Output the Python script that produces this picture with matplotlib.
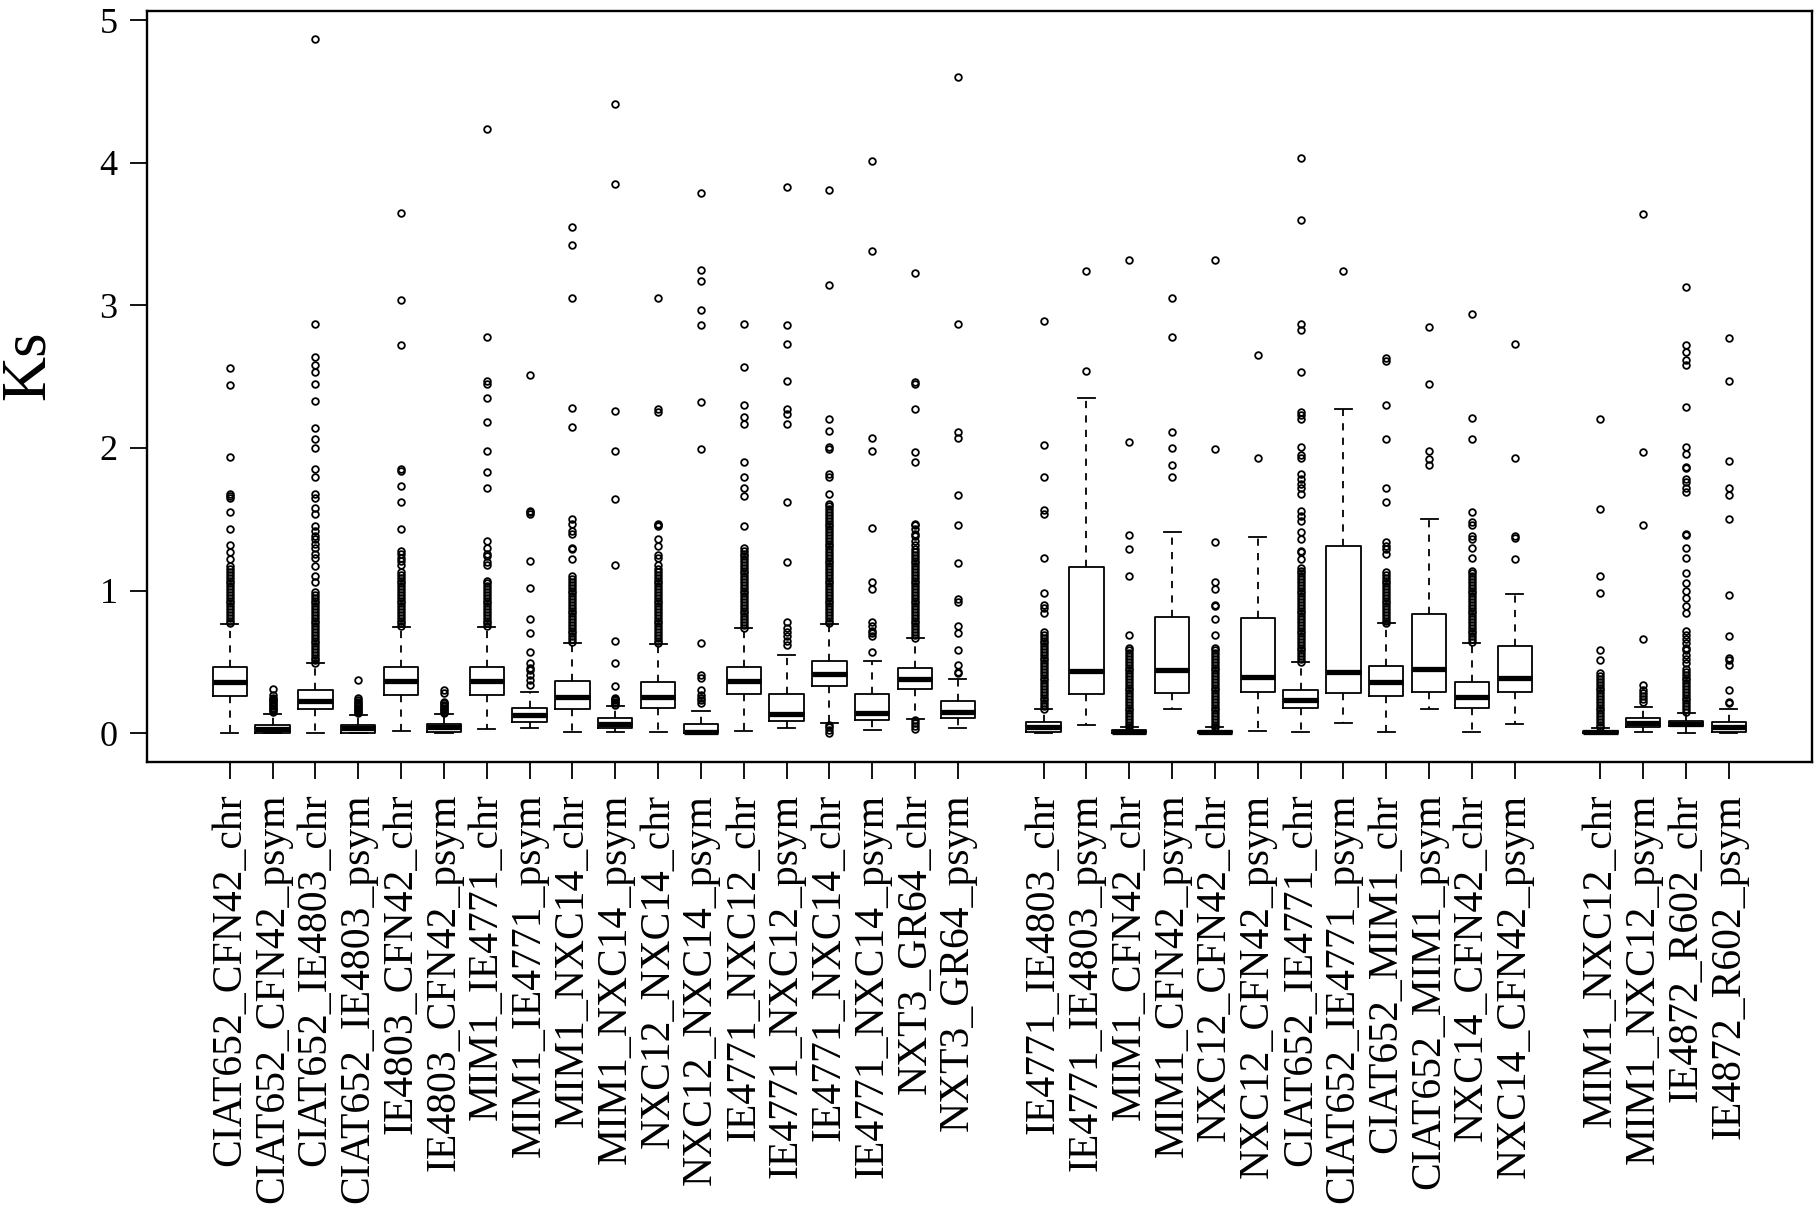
import matplotlib
matplotlib.use("Agg")
import matplotlib.pyplot as plt

plt.rcParams['font.family'] = ['Liberation Serif', 'DejaVu Serif']

# pair names, one per box
names = [
    "CIAT652_CFN42_chr", "CIAT652_CFN42_psym", "CIAT652_IE4803_chr", "CIAT652_IE4803_psym",
    "IE4803_CFN42_chr", "IE4803_CFN42_psym", "MIM1_IE4771_chr", "MIM1_IE4771_psym",
    "MIM1_NXC14_chr", "MIM1_NXC14_psym", "NXC12_NXC14_chr", "NXC12_NXC14_psym",
    "IE4771_NXC12_chr", "IE4771_NXC12_psym", "IE4771_NXC14_chr", "IE4771_NXC14_psym",
    "NXT3_GR64_chr", "NXT3_GR64_psym",
    "IE4771_IE4803_chr", "IE4771_IE4803_psym", "MIM1_CFN42_chr", "MIM1_CFN42_psym",
    "NXC12_CFN42_chr", "NXC12_CFN42_psym", "CIAT652_IE4771_chr", "CIAT652_IE4771_psym",
    "CIAT652_MIM1_chr", "CIAT652_MIM1_psym", "NXC14_CFN42_chr", "NXC14_CFN42_psym",
    "MIM1_NXC12_chr", "MIM1_NXC12_psym", "IE4872_R602_chr", "IE4872_R602_psym",
]

# box statistics
q1 = [0.262, 0.0, 0.173, 0.002, 0.267, 0.009, 0.269, 0.080, 0.173, 0.037, 0.175, 0.0,
      0.274, 0.084, 0.332, 0.091, 0.311, 0.110,
      0.010, 0.278, 0.0, 0.283, 0.0, 0.288, 0.175, 0.283, 0.260, 0.290, 0.175, 0.292,
      0.0, 0.040, 0.049, 0.005]
med = [0.358, 0.026, 0.227, 0.033, 0.363, 0.040, 0.363, 0.126, 0.255, 0.068, 0.255, 0.010,
       0.363, 0.138, 0.414, 0.145, 0.379, 0.152,
       0.044, 0.435, 0.005, 0.440, 0.005, 0.395, 0.232, 0.430, 0.358, 0.449, 0.255, 0.390,
       0.005, 0.073, 0.068, 0.044]
q3 = [0.465, 0.060, 0.306, 0.060, 0.461, 0.068, 0.461, 0.178, 0.363, 0.108, 0.358, 0.063,
      0.461, 0.278, 0.508, 0.274, 0.456, 0.227,
      0.080, 1.165, 0.020, 0.814, 0.015, 0.805, 0.306, 1.312, 0.468, 0.837, 0.360, 0.613,
      0.015, 0.105, 0.089, 0.080]
whislo = [0.0, 0.0, 0.002, 0.0, 0.014, 0.0, 0.026, 0.035, 0.005, 0.005, 0.005, 0.0,
          0.016, 0.037, 0.075, 0.020, 0.098, 0.037,
          0.0, 0.058, 0.0, 0.168, 0.0, 0.016, 0.007, 0.070, 0.005, 0.168, 0.005, 0.068,
          0.0, 0.007, 0.002, 0.0]
whishi = [0.765, 0.138, 0.489, 0.131, 0.744, 0.133, 0.744, 0.290, 0.636, 0.194, 0.627, 0.157,
          0.739, 0.547, 0.765, 0.508, 0.669, 0.377,
          0.173, 2.350, 0.040, 1.408, 0.040, 1.373, 0.496, 2.271, 0.770, 1.500, 0.634, 0.973,
          0.037, 0.182, 0.143, 0.168]

# outliers per box
fliers = [
    # CIAT652_CFN42_chr
    [0.77, 0.79, 0.81, 0.83, 0.85, 0.87, 0.89, 0.91, 0.93, 0.95, 0.97, 0.99, 1.01, 1.03,
     1.05, 1.07, 1.09, 1.11, 1.13, 1.15, 1.17, 1.22, 1.27, 1.32, 1.43, 1.55, 1.65, 1.66,
     1.68, 1.94, 2.44, 2.56],
    # CIAT652_CFN42_psym
    [0.15, 0.16, 0.17, 0.18, 0.19, 0.20, 0.21, 0.22, 0.23, 0.24, 0.25, 0.27, 0.31],
    # CIAT652_IE4803_chr
    [0.49, 0.51, 0.53, 0.55, 0.57, 0.59, 0.61, 0.63, 0.65, 0.67, 0.69, 0.71, 0.73, 0.75,
     0.77, 0.79, 0.81, 0.83, 0.85, 0.87, 0.89, 0.91, 0.93, 0.95, 0.97, 0.99, 1.06, 1.10,
     1.17, 1.23, 1.26, 1.30, 1.33, 1.36, 1.38, 1.42, 1.45, 1.54, 1.58, 1.65, 1.68, 1.80,
     1.85, 2.00, 2.06, 2.14, 2.33, 2.45, 2.53, 2.58, 2.64, 2.87, 4.87],
    # CIAT652_IE4803_psym
    [0.14, 0.15, 0.16, 0.17, 0.18, 0.19, 0.20, 0.21, 0.22, 0.23, 0.25, 0.37],
    # IE4803_CFN42_chr
    [0.75, 0.77, 0.79, 0.81, 0.83, 0.85, 0.87, 0.89, 0.91, 0.93, 0.95, 0.97, 0.99, 1.01,
     1.03, 1.05, 1.07, 1.09, 1.11, 1.13, 1.18, 1.21, 1.23, 1.26, 1.28, 1.43, 1.62, 1.73,
     1.84, 1.85, 2.72, 3.04, 3.65],
    # IE4803_CFN42_psym
    [0.14, 0.15, 0.16, 0.17, 0.18, 0.19, 0.20, 0.21, 0.22, 0.28, 0.30],
    # MIM1_IE4771_chr
    [0.75, 0.77, 0.79, 0.81, 0.83, 0.85, 0.87, 0.89, 0.91, 0.93, 0.95, 0.97, 0.99, 1.01,
     1.03, 1.05, 1.07, 1.18, 1.20, 1.24, 1.26, 1.30, 1.35, 1.72, 1.83, 1.98, 2.18, 2.35,
     2.45, 2.47, 2.78, 4.24],
    # MIM1_IE4771_psym
    [0.34, 0.37, 0.41, 0.44, 0.46, 0.49, 0.57, 0.70, 0.80, 1.02, 1.21, 1.54, 1.55, 1.56,
     2.51],
    # MIM1_NXC14_chr
    [0.64, 0.66, 0.68, 0.70, 0.72, 0.74, 0.76, 0.78, 0.80, 0.82, 0.84, 0.86, 0.88, 0.90,
     0.92, 0.94, 0.96, 0.98, 1.00, 1.02, 1.04, 1.06, 1.08, 1.10, 1.22, 1.29, 1.30, 1.40,
     1.42, 1.47, 1.50, 2.15, 2.28, 3.05, 3.42, 3.55],
    # MIM1_NXC14_psym
    [0.20, 0.21, 0.22, 0.23, 0.24, 0.25, 0.33, 0.49, 0.65, 1.18, 1.64, 1.98, 2.26, 3.85,
     4.41],
    # NXC12_NXC14_chr
    [0.63, 0.65, 0.67, 0.69, 0.71, 0.73, 0.75, 0.77, 0.79, 0.81, 0.83, 0.85, 0.87, 0.89,
     0.91, 0.93, 0.95, 0.97, 0.99, 1.01, 1.03, 1.05, 1.07, 1.09, 1.11, 1.13, 1.15, 1.18,
     1.23, 1.25, 1.31, 1.36, 1.45, 1.46, 1.47, 2.25, 2.27, 3.05],
    # NXC12_NXC14_psym
    [0.21, 0.23, 0.25, 0.27, 0.30, 0.39, 0.41, 0.63, 1.99, 2.32, 2.86, 2.97, 3.17, 3.25,
     3.79],
    # IE4771_NXC12_chr
    [0.74, 0.76, 0.78, 0.80, 0.82, 0.84, 0.86, 0.88, 0.90, 0.92, 0.94, 0.96, 0.98, 1.00,
     1.02, 1.04, 1.06, 1.08, 1.10, 1.12, 1.14, 1.16, 1.18, 1.20, 1.22, 1.24, 1.26, 1.28,
     1.30, 1.45, 1.66, 1.72, 1.80, 1.90, 2.17, 2.22, 2.30, 2.57, 2.87],
    # IE4771_NXC12_psym
    [0.62, 0.65, 0.68, 0.71, 0.74, 0.78, 1.20, 1.62, 2.17, 2.24, 2.27, 2.47, 2.73, 2.86,
     3.83],
    # IE4771_NXC14_chr
    [0.0, 0.02, 0.04, 0.06, 0.77, 0.79, 0.81, 0.83, 0.85, 0.87, 0.89, 0.91, 0.93, 0.95,
     0.97, 0.99, 1.01, 1.03, 1.05, 1.07, 1.09, 1.11, 1.13, 1.15, 1.17, 1.19, 1.21, 1.23,
     1.25, 1.27, 1.29, 1.31, 1.33, 1.35, 1.37, 1.39, 1.41, 1.43, 1.45, 1.47, 1.49, 1.51,
     1.53, 1.55, 1.57, 1.59, 1.61, 1.68, 1.80, 1.82, 1.99, 2.01, 2.12, 2.20, 3.14, 3.81],
    # IE4771_NXC14_psym
    [0.57, 0.68, 0.70, 0.72, 0.75, 0.78, 1.01, 1.06, 1.44, 1.98, 2.07, 3.38, 4.01],
    # NXT3_GR64_chr
    [0.03, 0.05, 0.07, 0.09, 0.67, 0.69, 0.71, 0.73, 0.75, 0.77, 0.79, 0.81, 0.83, 0.85,
     0.87, 0.89, 0.91, 0.93, 0.95, 0.97, 0.99, 1.01, 1.03, 1.05, 1.07, 1.09, 1.11, 1.13,
     1.15, 1.17, 1.19, 1.21, 1.23, 1.25, 1.27, 1.29, 1.32, 1.35, 1.38, 1.40, 1.43, 1.46,
     1.47, 1.90, 1.97, 2.27, 2.45, 2.46, 3.23],
    # NXT3_GR64_psym
    [0.42, 0.43, 0.48, 0.58, 0.70, 0.75, 0.92, 0.94, 1.19, 1.46, 1.67, 2.07, 2.11, 2.87,
     4.60],
    # IE4771_IE4803_chr
    [0.17, 0.19, 0.21, 0.23, 0.25, 0.27, 0.29, 0.31, 0.33, 0.35, 0.37, 0.39, 0.41, 0.43,
     0.45, 0.47, 0.49, 0.51, 0.53, 0.55, 0.57, 0.59, 0.61, 0.63, 0.65, 0.67, 0.69, 0.71,
     0.84, 0.875, 0.90, 0.985, 1.23, 1.54, 1.565, 1.80, 2.02, 2.89],
    # IE4771_IE4803_psym
    [2.54, 3.24],
    # MIM1_CFN42_chr
    [0.04, 0.06, 0.08, 0.10, 0.12, 0.14, 0.16, 0.18, 0.20, 0.22, 0.24, 0.26, 0.28, 0.30,
     0.32, 0.34, 0.36, 0.38, 0.40, 0.42, 0.44, 0.46, 0.48, 0.50, 0.52, 0.54, 0.56, 0.58,
     0.60, 0.69, 1.10, 1.29, 1.39, 2.04, 3.32],
    # MIM1_CFN42_psym
    [1.80, 1.88, 2.00, 2.11, 2.78, 3.05],
    # NXC12_CFN42_chr
    [0.04, 0.06, 0.08, 0.10, 0.12, 0.14, 0.16, 0.18, 0.20, 0.22, 0.24, 0.26, 0.28, 0.30,
     0.32, 0.34, 0.36, 0.38, 0.40, 0.42, 0.44, 0.46, 0.48, 0.50, 0.52, 0.54, 0.56, 0.58,
     0.60, 0.69, 0.80, 0.89, 0.90, 1.01, 1.06, 1.34, 1.99, 3.32],
    # NXC12_CFN42_psym
    [1.93, 2.65],
    # CIAT652_IE4771_chr
    [0.50, 0.52, 0.54, 0.56, 0.58, 0.60, 0.62, 0.64, 0.66, 0.68, 0.70, 0.72, 0.74, 0.76,
     0.78, 0.80, 0.82, 0.84, 0.86, 0.88, 0.90, 0.92, 0.94, 0.96, 0.98, 1.00, 1.02, 1.04,
     1.06, 1.08, 1.10, 1.12, 1.14, 1.16, 1.22, 1.27, 1.28, 1.36, 1.41, 1.49, 1.52, 1.56,
     1.68, 1.72, 1.75, 1.78, 1.82, 1.93, 1.95, 2.01, 2.20, 2.23, 2.25, 2.53, 2.83, 2.87,
     3.60, 4.03],
    # CIAT652_IE4771_psym
    [3.24],
    # CIAT652_MIM1_chr
    [0.77, 0.79, 0.81, 0.83, 0.85, 0.87, 0.89, 0.91, 0.93, 0.95, 0.97, 0.99, 1.01, 1.03,
     1.05, 1.07, 1.09, 1.11, 1.13, 1.26, 1.29, 1.31, 1.34, 1.62, 1.72, 2.06, 2.30, 2.61,
     2.63],
    # CIAT652_MIM1_psym
    [1.88, 1.92, 1.98, 2.45, 2.85],
    # NXC14_CFN42_chr
    [0.64, 0.66, 0.68, 0.70, 0.72, 0.74, 0.76, 0.78, 0.80, 0.82, 0.84, 0.86, 0.88, 0.90,
     0.92, 0.94, 0.96, 0.98, 1.00, 1.02, 1.04, 1.06, 1.08, 1.10, 1.12, 1.14, 1.23, 1.30,
     1.36, 1.38, 1.46, 1.48, 1.55, 2.06, 2.21, 2.94],
    # NXC14_CFN42_psym
    [1.22, 1.37, 1.38, 1.93, 2.73],
    # MIM1_NXC12_chr
    [0.04, 0.06, 0.08, 0.10, 0.12, 0.14, 0.16, 0.18, 0.20, 0.22, 0.24, 0.26, 0.28, 0.30,
     0.32, 0.34, 0.36, 0.38, 0.40, 0.42, 0.51, 0.58, 0.98, 1.10, 1.57, 2.20],
    # MIM1_NXC12_psym
    [0.22, 0.24, 0.26, 0.28, 0.30, 0.34, 0.66, 1.46, 1.97, 3.64],
    # IE4872_R602_chr
    [0.15, 0.17, 0.19, 0.21, 0.23, 0.25, 0.27, 0.29, 0.31, 0.33, 0.35, 0.37, 0.39, 0.41,
     0.43, 0.45, 0.49, 0.52, 0.55, 0.58, 0.60, 0.63, 0.66, 0.69, 0.72, 0.84, 0.89, 0.95,
     1.00, 1.05, 1.12, 1.23, 1.30, 1.39, 1.40, 1.69, 1.72, 1.76, 1.78, 1.86, 1.87, 1.96,
     2.01, 2.29, 2.58, 2.62, 2.67, 2.72, 3.13],
    # IE4872_R602_psym
    [0.21, 0.22, 0.30, 0.48, 0.51, 0.53, 0.68, 0.97, 1.50, 1.67, 1.72, 1.91, 2.47, 2.77],
]

# three groups separated by an empty slot
positions = list(range(1, 19)) + list(range(20, 32)) + list(range(33, 37))

stats = []
for i in range(len(names)):
    stats.append(dict(q1=q1[i], med=med[i], q3=q3[i], whislo=whislo[i],
                      whishi=whishi[i], fliers=fliers[i]))

fig = plt.figure(figsize=(18.2, 12.11), dpi=100)
ax = fig.add_axes([0.0806, 0.371, 0.9150, 0.6200])

ax.bxp(stats, positions=positions, widths=0.8, capwidths=0.4,
       boxprops=dict(color='black', linewidth=1.3),
       medianprops=dict(color='black', linewidth=3.8, solid_capstyle='butt'),
       whiskerprops=dict(color='black', linewidth=1.3, linestyle=(0, (4, 4))),
       capprops=dict(color='black', linewidth=1.3),
       flierprops=dict(marker='o', markersize=4.8, markerfacecolor='none',
                       markeredgecolor='black', markeredgewidth=1.3))

ax.set_xlim(-0.94, 37.94)
ax.set_ylim(-0.2, 5.065)
ax.set_yticks([0, 1, 2, 3, 4, 5])
ax.set_yticklabels(['0', '1', '2', '3', '4', '5'], fontsize=26)
ax.set_xticks(positions)
ax.set_xticklabels(names, rotation=90, fontsize=30)
ax.tick_params(axis='both', direction='out', length=12, width=1.3, color='black')
ax.tick_params(axis='y', pad=9)
ax.tick_params(axis='x', pad=11)
for sp in ax.spines.values():
    sp.set_linewidth(1.7)

# y axis title
fig.text(0.016, 0.698, 'Ks', fontsize=45, rotation=90, ha='center', va='center')

fig.savefig('out.png', dpi=100)
